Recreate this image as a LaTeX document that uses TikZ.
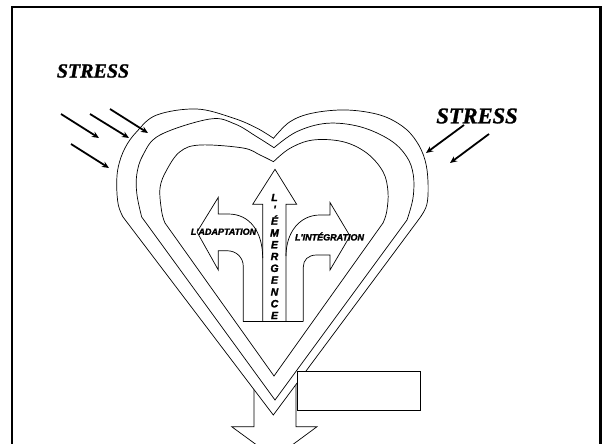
\documentclass[tikz,border=0pt]{standalone}
\usepackage{fontspec}
\setmainfont{Liberation Serif}[BoldItalicFeatures={FakeBold=1.2}]
\newfontfamily\labfont{Liberation Sans}[BoldItalicFeatures={FakeBold=2}]
\usetikzlibrary{arrows.meta}
\begin{document}
\begin{tikzpicture}[x=1pt,y=-1pt,
  line/.style={draw=black,line width=0.7pt,line join=miter},
  stressarrow/.style={line width=1.8pt,-{Stealth[length=7pt,width=6pt]}},
  stresstext/.style={font=\bfseries\itshape\fontsize{20}{20}\selectfont,inner sep=0pt},
  lab/.style={font=\labfont\bfseries\itshape\fontsize{9}{9}\selectfont,inner sep=0pt},
]
\useasboundingbox (0,0) rectangle (602,444);
\fill[white] (0,0) rectangle (602,444);
\begin{scope}
\clip (0,0) rectangle (602,444);
% frame
\draw[line width=2.2pt] (12,470) -- (12,7) -- (600.5,7) -- (600.5,470);
% downward arrow (behind the heart)
\draw[line,fill=white] (254,380) -- (254,426.7) -- (231.7,426.7) -- (274.5,458) -- (317,426.7) -- (296,426.7) -- (296,380);
% outer heart
\draw[line,fill=white] plot[smooth,tension=0.6] coordinates {(273.5,138.3) (256.7,128) (233,118) (196.7,109) (156.7,115) (136.7,131.7) (125,148) (118.3,166.7) (116.7,185) (118.3,205) (123,217)} -- (273.3,415) -- plot[smooth,tension=0.6] coordinates {(418.3,220) (426.7,205) (428,181.7) (425,160) (416.7,141.7) (403,126.7) (380,115) (346.7,110) (313,113) (290,121.7) (273.5,138.3)} -- cycle;
% middle heart
\draw[line] plot[smooth,tension=0.6] coordinates {(274,147.7) (256.7,136.7) (235,124) (210,119) (160,135) (143,155) (136.7,175) (137,195) (141.7,217)} -- (275,400) -- plot[smooth,tension=0.6] coordinates {(407,220) (413,198) (413.3,175) (406.7,156.7) (390,140) (360,126.7) (326.7,123.3) (296.7,131.7) (274,147.7)} -- cycle;
% inner heart
\draw[line] plot[smooth,tension=0.6] coordinates {(273.5,161.7) (260,155) (243,148) (200,145) (180,151.7) (166.7,170) (160,188) (161.7,211.7) (165,223)} -- (274,376) -- plot[smooth,tension=0.6] coordinates {(383,223) (386.7,211.7) (388,191.7) (383,171.7) (366.7,153) (343,141.7) (313,140) (290,148.3) (273.5,161.7)} -- cycle;
% central arrow
\draw[line] (262.7,321.7) -- (262.7,204.3) -- (252.7,204.3) -- (275,169.3) -- (296.7,204.3) -- (286,204.3) -- (286,321.7);
\draw[line] (243.3,321.7) -- (303.3,321.7);
% left arrow
\draw[line] (243.3,321.7) -- (243.3,266.7) .. controls (243.3,257) and (236,250.7) .. (226.7,250.7) -- (218.3,250.7) -- (218.3,270) -- (197,232) -- (218.3,197.3) -- (218.3,214) -- (228.3,214) .. controls (250,214) and (262.7,232) .. (262.7,258);
% right arrow
\draw[line] (303.3,321.7) -- (303.3,267) .. controls (303.3,260) and (308,255) .. (316.7,255) -- (330,255) -- (330,270) -- (350,236) -- (330,202.5) -- (330,215) -- (320,215) .. controls (300,215) and (286,232) .. (286,256);
% labels
\node[lab] (adapt) at (223.5,231.7) {L'ADAPTATION};
\node[lab] (integ) at (329.5,236.5) {L'INTÉGRATION};
\node[lab,font=\labfont\bfseries\itshape\fontsize{10.5}{11.8}\selectfont,align=center] (emerg) at (274.5,256.5) {L\\'\\É\\M\\E\\R\\G\\E\\N\\C\\E};
% empty box
\draw[line,fill=white] (297,371) rectangle (420,410);
\node[inner sep=0pt] (box) at (358.5,390.5) {};
% stress texts
\node[stresstext] (stressL) at (93,71) {STRESS};
\node[stresstext,font=\bfseries\itshape\fontsize{22.5}{22.5}\selectfont] (stressR) at (477,116) {STRESS};
% stress arrows
\coordinate (a1s) at (61,114);  \coordinate (a1e) at (99,138);
\coordinate (a2s) at (90,114);  \coordinate (a2e) at (129,138);
\coordinate (a3s) at (110,109); \coordinate (a3e) at (148,133);
\coordinate (a4s) at (71,144);  \coordinate (a4e) at (109,168);
\coordinate (b1s) at (464,125); \coordinate (b1e) at (426,153);
\coordinate (b2s) at (489,134); \coordinate (b2e) at (450,163);
\draw[stressarrow] (a1s) -- (a1e);
\draw[stressarrow] (a2s) -- (a2e);
\draw[stressarrow] (a3s) -- (a3e);
\draw[stressarrow] (a4s) -- (a4e);
\draw[stressarrow] (b1s) -- (b1e);
\draw[stressarrow] (b2s) -- (b2e);
\end{scope}
\end{tikzpicture}
\end{document}
